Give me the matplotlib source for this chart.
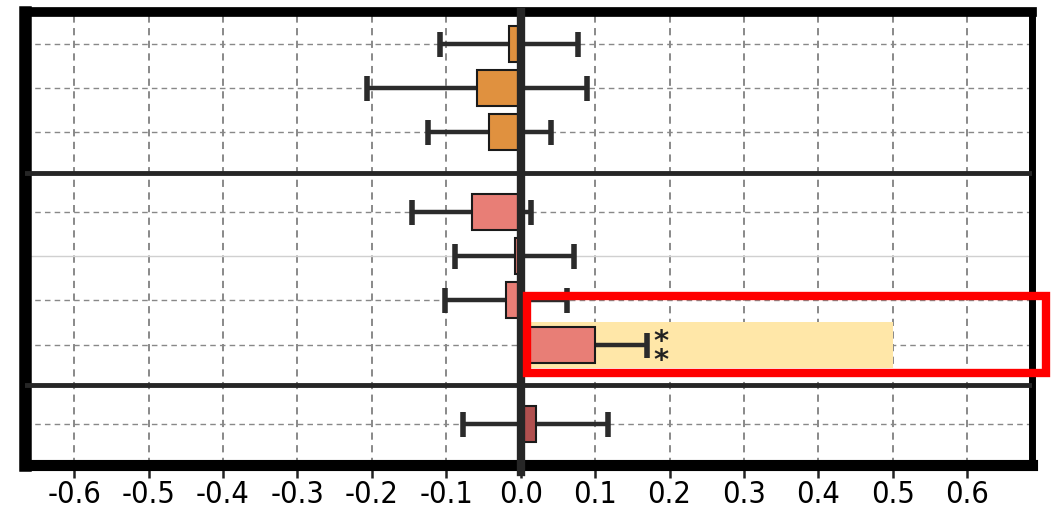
import matplotlib.pyplot as plt
from matplotlib.patches import Rectangle

plt.rcParams['font.family'] = ['DejaVu Sans']

# row positions (three groups separated by solid lines)
rows = [0, 1, 2, 3.82, 4.82, 5.82, 6.84, 8.64]
means = [-0.016, -0.059, -0.042, -0.066, -0.008, -0.020, 0.100, 0.020]
errs = [0.093, 0.148, 0.083, 0.080, 0.080, 0.082, 0.070, 0.097]
colors = ['#E0913F'] * 3 + ['#E87E76'] * 4 + ['#B0504F']
separators = [2.92, 7.74]
ticks = [-0.6, -0.5, -0.4, -0.3, -0.2, -0.1, 0.0, 0.1, 0.2, 0.3, 0.4, 0.5, 0.6]
sig_row = 6
sig_label = '*\n*'

fig = plt.figure(figsize=(10.55, 5.15), dpi=100)
ax = fig.add_axes([25 / 1055, 1 - 465 / 515, 1007 / 1055, 453 / 515])

ax.set_xlim(-0.666, 0.687)
ax.set_ylim(9.57, -0.73)

# grid
for t in ticks:
    ax.axvline(t, color='#808080', ls=(0, (4, 3)), lw=1.3, zorder=0)
for i, r in enumerate(rows):
    if i == 4:
        ax.axhline(r, color='#d0d0d0', lw=1.0, zorder=0)
    else:
        ax.axhline(r, color='#888888', ls=(0, (4, 3)), lw=1.0, zorder=0)

# highlighted band behind the significant bar
ax.add_patch(Rectangle((0, rows[sig_row] - 0.52), 0.5, 1.04,
                       facecolor='#FFE7A8', edgecolor='none', zorder=0.5))

ax.errorbar(means, rows, xerr=errs, fmt='none', ecolor='#2b2b2b',
            elinewidth=3.2, capsize=9, capthick=4, zorder=2)
ax.barh(rows, means, height=0.82, color=colors, edgecolor='#1a1a1a',
        linewidth=1.5, zorder=3)

for s in separators:
    ax.axhline(s, color='#262626', lw=3.5, zorder=4)

ax.axvline(0, color='#262626', lw=6, zorder=5, ymin=-0.015, ymax=1.0,
           clip_on=False)

# significance stars stacked next to the error bar
ax.text(means[sig_row] + errs[sig_row] + 0.019, rows[sig_row] + 0.15,
        sig_label, ha='center', va='center', fontsize=21, fontweight='bold',
        linespacing=0.62, color='#222222', zorder=6)

# red outline around the significant row
ax.add_patch(Rectangle((0.009, 5.72), 0.697, 1.76, fill=False,
                       edgecolor='#FF0000', lw=6, zorder=7, clip_on=False))

for side, w in [('left', 9), ('top', 7), ('right', 5), ('bottom', 8)]:
    ax.spines[side].set_linewidth(w)
    ax.spines[side].set_color('black')

ax.set_xticks(ticks)
ax.set_xticklabels([f'{t:.1f}' for t in ticks], fontsize=22,
                   fontstretch='condensed')
ax.set_yticks([])
ax.tick_params(axis='x', direction='out', length=9, width=1.8, pad=2,
               color='#222222')

fig.savefig('out.png', dpi=100)
